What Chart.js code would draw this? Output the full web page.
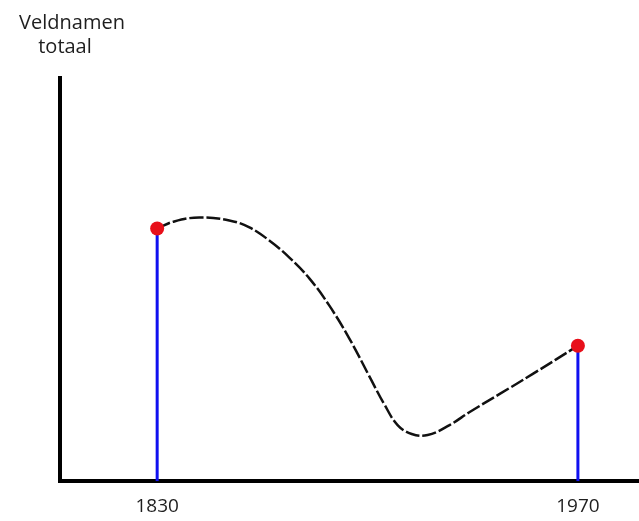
<!DOCTYPE html>
<html>
<head>
<meta charset="utf-8">
<script src="https://cdn.jsdelivr.net/npm/chart.js@4/dist/chart.umd.min.js"></script>
<style>
  html, body { margin: 0; padding: 0; background: #fff; }
  #wrap { width: 639px; height: 521px; }
</style>
</head>
<body>
<div id="wrap"><canvas id="veld"></canvas></div>
<script>
// years marked on the x axis
var tickYears = [1830, 1970];
// measured totals at those years
var measured = [63, 33.75];
// sketched trend between the two measurements
var trendYears = [1830, 1835.7, 1844, 1854, 1860.7, 1867.3, 1874, 1880.7, 1887.3, 1894, 1900.7, 1905.7, 1910, 1914.7, 1920, 1927.3, 1934, 1944, 1955, 1970];
var trendValues = [63, 64.75, 65.75, 65, 63.25, 60, 55.75, 50.5, 43.75, 35.5, 26, 19, 14, 11.75, 11.5, 14, 17.25, 21.75, 26.75, 33.75];
var axisTitle = ['Veldnamen', 'totaal'];

var trend = trendYears.map(function (yr, i) { return { x: yr, y: trendValues[i] }; });
var dots = tickYears.map(function (yr, i) { return { x: yr, y: measured[i] }; });

var datasets = [];
// blue stems, one per measurement
tickYears.forEach(function (yr, i) {
	datasets.push({
		data: [{ x: yr, y: 0 }, { x: yr, y: measured[i] }],
		borderColor: '#1010f0',
		borderWidth: 3,
		pointRadius: 0,
		order: 3
	});
});
datasets.push({
	data: trend,
	borderColor: '#111',
	borderWidth: 2.5,
	borderDash: [14, 3],
	tension: 0.4,
	pointRadius: 0,
	order: 2
});
datasets.push({
	data: dots,
	showLine: false,
	pointRadius: 7,
	pointBackgroundColor: '#e8101a',
	pointBorderWidth: 0,
	order: 1
});

var titleText = {
	id: 'titleText',
	afterDraw: function (chart) {
		var ctx = chart.ctx;
		ctx.save();
		ctx.fillStyle = '#1e1e1e';
		ctx.font = '20px "Open Sans"';
		ctx.textAlign = 'center';
		ctx.textBaseline = 'middle';
		ctx.fillText(axisTitle[0], 72, 23);
		ctx.fillText(axisTitle[1], 65, 47);
		ctx.restore();
	}
};

new Chart(document.getElementById('veld'), {
	type: 'line',
	data: { datasets: datasets },
	options: {
		responsive: true,
		maintainAspectRatio: false,
		animation: false,
		layout: { autoPadding: false, padding: { left: 60, right: 0, top: 78, bottom: -11 } },
		plugins: { legend: { display: false }, tooltip: { enabled: false } },
		scales: {
			x: {
				type: 'linear',
				min: 1797.67,
				max: 1990.33,
				grid: { display: false, drawTicks: false },
				border: { display: true, color: '#000', width: 4 },
				afterBuildTicks: function (axis) {
					axis.ticks = tickYears.map(function (v) { return { value: v }; });
				},
				ticks: {
					color: '#1e1e1e',
					font: { family: 'Open Sans', size: 19 },
					padding: 14,
					callback: function (v) { return String(v); }
				}
			},
			y: {
				min: 0,
				max: 100.5,
				grid: { display: false, drawTicks: false },
				border: { display: true, color: '#000', width: 4 },
				ticks: { display: false }
			}
		}
	},
	plugins: [titleText]
});
</script>
</body>
</html>
